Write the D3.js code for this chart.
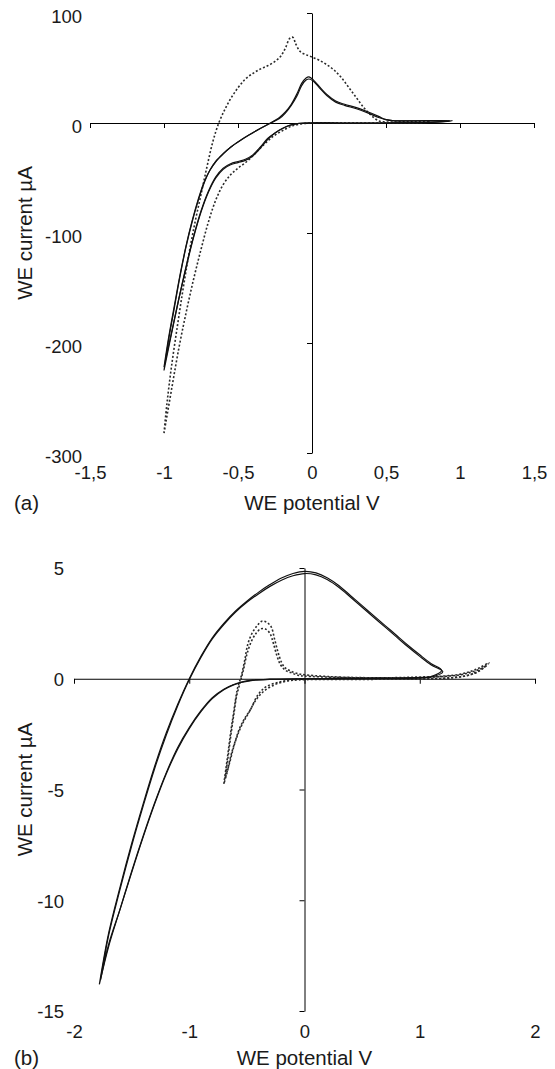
<!DOCTYPE html>
<html>
<head>
<meta charset="utf-8">
<script src="https://cdn.jsdelivr.net/npm/d3@7"></script>
<style>
body{margin:0;background:#fff;}
text{font-family:"Liberation Sans",Arial,sans-serif;fill:#1a1a1a;}
</style>
</head>
<body>
<script>
// values: [WE potential V, WE current uA]

// (a) solid, two cycles
const aSolid1 = [[-1.0,-225],[-0.97,-198],[-0.93,-168],[-0.89,-138],[-0.85,-112],[-0.81,-90],[-0.77,-71],[-0.73,-55],[-0.69,-43],[-0.65,-35],[-0.6,-28],[-0.55,-22],[-0.48,-15.5],[-0.42,-10.5],[-0.35,-5],[-0.28,0],[-0.22,5],[-0.18,10],[-0.14,17],[-0.1,27],[-0.07,36],[-0.04,41],[-0.02,42],[0.01,39],[0.05,33],[0.1,26],[0.16,20],[0.22,17],[0.3,14],[0.38,10],[0.45,6],[0.5,3],[0.56,2],[0.7,2],[0.95,2],
  [0.8,0.5],[0.5,0],[0.2,0],[-0.05,0],[-0.1,-0.5],[-0.15,-2],[-0.2,-5],[-0.25,-9],[-0.3,-14],[-0.35,-22],[-0.4,-29],[-0.45,-33],[-0.5,-35],[-0.55,-37],[-0.6,-41],[-0.65,-49],[-0.7,-62],[-0.75,-80],[-0.8,-103],[-0.85,-130],[-0.9,-160],[-0.95,-192],[-1.0,-225]];
const aSolid2 = [[-1.0,-222],[-0.97,-196],[-0.93,-166],[-0.89,-137],[-0.85,-111],[-0.81,-89],[-0.77,-70],[-0.73,-54],[-0.69,-43],[-0.65,-35],[-0.6,-28],[-0.55,-22],[-0.48,-15.5],[-0.42,-10.5],[-0.35,-5],[-0.28,0],[-0.22,4],[-0.18,9],[-0.14,16],[-0.1,25],[-0.07,34],[-0.04,39],[-0.02,40],[0.01,38],[0.05,32],[0.1,25],[0.16,19],[0.22,16],[0.3,13],[0.38,9],[0.45,5],[0.5,3],[0.56,2],[0.7,2],[0.93,2],
  [0.8,0.5],[0.5,0],[0.2,0],[-0.05,0],[-0.1,-0.5],[-0.15,-2],[-0.2,-5],[-0.25,-9],[-0.3,-15],[-0.35,-23],[-0.4,-30],[-0.45,-34],[-0.5,-36],[-0.55,-38],[-0.6,-42],[-0.65,-50],[-0.7,-63],[-0.75,-81],[-0.8,-104],[-0.85,-131],[-0.9,-160],[-0.95,-191],[-1.0,-222]];
// (a) dotted
const aDotted = [[-1.0,-282],[-0.98,-255],[-0.95,-222],[-0.91,-185],[-0.87,-150],[-0.83,-118],[-0.79,-90],[-0.75,-65],[-0.71,-40],[-0.67,-17],[-0.63,0],[-0.59,12],[-0.55,22],[-0.5,32],[-0.45,40],[-0.4,45],[-0.35,49],[-0.3,52],[-0.25,56],[-0.21,61],[-0.18,68],[-0.15,77],[-0.13,78],[-0.11,72],[-0.08,65],[-0.04,62],[0,60],[0.05,57],[0.1,53],[0.15,48],[0.2,41],[0.25,32],[0.3,23],[0.35,14],[0.4,7],[0.45,2],[0.5,1],[0.6,1],[0.8,1],
  [0.7,0],[0.5,0],[0.2,0],[0,0],[-0.08,-1],[-0.14,-3],[-0.2,-7],[-0.26,-12],[-0.32,-19],[-0.38,-27],[-0.44,-35],[-0.5,-41],[-0.55,-47],[-0.6,-56],[-0.65,-70],[-0.7,-90],[-0.75,-115],[-0.8,-142],[-0.85,-172],[-0.9,-205],[-0.95,-243],[-1.0,-282]];

// (b) solid, two cycles
const bSolid1 = [[-1.78,-13.8],[-1.7,-11.5],[-1.6,-9.4],[-1.5,-7.45],[-1.4,-5.65],[-1.3,-3.95],[-1.2,-2.45],[-1.1,-1.15],[-1.0,0],[-0.9,1.0],[-0.8,1.85],[-0.7,2.5],[-0.6,3.05],[-0.5,3.5],[-0.4,3.9],[-0.3,4.25],[-0.2,4.55],[-0.1,4.75],[0,4.85],[0.1,4.78],[0.2,4.55],[0.3,4.2],[0.4,3.75],[0.5,3.3],[0.6,2.85],[0.7,2.4],[0.8,1.95],[0.9,1.5],[1.0,1.08],[1.1,0.68],[1.19,0.38],
  [1.1,0.1],[1.0,0.05],[0.5,0.02],[0,0],[-0.3,-0.02],[-0.45,-0.06],[-0.55,-0.15],[-0.62,-0.27],[-0.7,-0.47],[-0.8,-0.85],[-0.9,-1.45],[-1.0,-2.2],[-1.1,-3.1],[-1.2,-4.25],[-1.3,-5.6],[-1.4,-7.1],[-1.5,-8.7],[-1.6,-10.4],[-1.7,-12.1],[-1.78,-13.8]];
const bSolid2 = [[-1.77,-13.6],[-1.7,-11.6],[-1.6,-9.5],[-1.5,-7.55],[-1.4,-5.75],[-1.3,-4.05],[-1.2,-2.55],[-1.1,-1.22],[-1.0,-0.05],[-0.9,0.95],[-0.8,1.8],[-0.7,2.45],[-0.6,3.0],[-0.5,3.45],[-0.4,3.83],[-0.3,4.17],[-0.2,4.45],[-0.1,4.65],[0,4.75],[0.1,4.69],[0.2,4.47],[0.3,4.12],[0.4,3.68],[0.5,3.23],[0.6,2.78],[0.7,2.33],[0.8,1.88],[0.9,1.43],[1.0,1.01],[1.1,0.62],[1.2,0.32],
  [1.1,0.08],[1.0,0.04],[0.5,0.01],[0,0],[-0.3,-0.03],[-0.45,-0.07],[-0.55,-0.17],[-0.62,-0.29],[-0.7,-0.5],[-0.8,-0.9],[-0.9,-1.5],[-1.0,-2.25],[-1.1,-3.17],[-1.2,-4.3],[-1.3,-5.65],[-1.4,-7.15],[-1.5,-8.75],[-1.6,-10.4],[-1.7,-12.0],[-1.77,-13.6]];
// (b) dotted, two cycles
const bDotted1 = [[-0.7,-4.75],[-0.68,-4.0],[-0.66,-3.2],[-0.64,-2.4],[-0.62,-1.7],[-0.6,-1.0],[-0.58,-0.4],[-0.55,0.1],[-0.52,0.8],[-0.49,1.6],[-0.45,2.1],[-0.41,2.4],[-0.37,2.6],[-0.33,2.55],[-0.29,2.35],[-0.26,1.8],[-0.23,1.2],[-0.2,0.75],[-0.17,0.5],[-0.12,0.35],[-0.05,0.22],[0,0.18],[0.2,0.1],[0.5,0.05],[0.8,0.05],[1.0,0.08],[1.2,0.12],[1.35,0.2],[1.45,0.35],[1.52,0.5],[1.6,0.72],
  [1.5,0.3],[1.3,0.05],[1.0,0],[0.5,0],[0,-0.02],[-0.12,-0.05],[-0.22,-0.15],[-0.33,-0.35],[-0.4,-0.7],[-0.47,-1.4],[-0.52,-1.8],[-0.56,-2.2],[-0.6,-2.8],[-0.64,-3.5],[-0.67,-4.2],[-0.7,-4.75]];
const bDotted2 = [[-0.69,-4.5],[-0.67,-3.8],[-0.65,-3.0],[-0.63,-2.2],[-0.61,-1.5],[-0.59,-0.8],[-0.56,-0.2],[-0.53,0.4],[-0.5,1.1],[-0.46,1.7],[-0.42,2.05],[-0.38,2.25],[-0.34,2.25],[-0.3,2.05],[-0.27,1.6],[-0.24,1.05],[-0.21,0.65],[-0.17,0.4],[-0.12,0.28],[-0.05,0.15],[0,0.12],[0.3,0.06],[0.7,0.03],[1.0,0.05],[1.2,0.1],[1.35,0.18],[1.45,0.3],[1.53,0.45],[1.58,0.6],
  [1.45,0.2],[1.2,0.02],[0.8,-0.02],[0.3,-0.03],[-0.05,-0.05],[-0.15,-0.1],[-0.25,-0.25],[-0.35,-0.55],[-0.42,-0.95],[-0.48,-1.5],[-0.53,-1.95],[-0.57,-2.4],[-0.61,-3.0],[-0.65,-3.8],[-0.69,-4.5]];

const aXTicks = [-1.5,-1,-0.5,0,0.5,1,1.5];
const aYTicks = [100,0,-100,-200,-300];
const bXTicks = [-2,-1,0,1,2];
const bYTicks = [5,0,-5,-10,-15];

const xTitle = "WE potential V";
const yTitle = "WE current µA";

const svg = d3.select("body").append("svg")
  .attr("width", 555)
  .attr("height", 1069);

const fmt = d => String(d).replace(".", ",");

function panel(o){
  const x = d3.scaleLinear().domain(o.xDom).range(o.xRange);
  const y = d3.scaleLinear().domain(o.yDom).range(o.yRange);
  const g = svg.append("g");

  // axes crossing at (0,0)
  g.append("g").attr("transform", `translate(${x(0)},0)`)
    .call(d3.axisLeft(y).tickValues(o.yTicks).tickSize(5).tickSizeOuter(0).tickFormat(""));
  g.append("g").attr("transform", `translate(0,${y(0)})`)
    .call(d3.axisBottom(x).tickValues(o.xTicks).tickSize(5).tickSizeOuter(0).tickFormat(""));

  // tick labels sit at the left / bottom edge
  const yl = g.append("g").attr("transform", `translate(${o.yLabX},${o.yLabDy})`)
    .call(d3.axisLeft(y).tickValues(o.yTicks).tickSize(0).tickPadding(0).tickFormat(fmt));
  yl.select(".domain").remove();
  const xl = g.append("g").attr("transform", `translate(0,${o.xLabY})`)
    .call(d3.axisBottom(x).tickValues(o.xTicks).tickSize(0).tickPadding(0).tickFormat(fmt));
  xl.select(".domain").remove();
  g.selectAll(".tick text").attr("font-size", 18.5).attr("font-family", null).attr("fill", "#1a1a1a");

  const line = d3.line().x(d => x(d[0])).y(d => y(d[1])).curve(d3.curveCatmullRom.alpha(0.5));

  o.dotted.forEach(s => g.append("path").datum(s)
    .attr("d", line).attr("fill", "none").attr("stroke", "#2a2a2a")
    .attr("stroke-width", 1.6).attr("stroke-dasharray", "2,2"));
  o.solid.forEach(s => g.append("path").datum(s)
    .attr("d", line).attr("fill", "none").attr("stroke", "#111")
    .attr("stroke-width", 1.2));

  g.append("text").attr("x", x(0)).attr("y", o.titleY)
    .attr("text-anchor", "middle").attr("font-size", 20.5).text(xTitle);
  g.append("text").attr("transform", `translate(32,${(o.yRange[0]+o.yRange[1])/2}) rotate(-90)`)
    .attr("text-anchor", "middle").attr("font-size", 20.5).text(yTitle);
  g.append("text").attr("x", 14).attr("y", o.titleY)
    .attr("font-size", 20.5).text(o.tag);
}

panel({xDom:[-1.5,1.5], xRange:[90,534], yDom:[-300,100], yRange:[453,13],
  xTicks:aXTicks, yTicks:aYTicks, yLabX:82, yLabDy:4, xLabY:466, titleY:510,
  solid:[aSolid1,aSolid2], dotted:[aDotted], tag:"(a)"});
panel({xDom:[-2,2], xRange:[74,535], yDom:[-15,5], yRange:[1011,568],
  xTicks:bXTicks, yTicks:bYTicks, yLabX:64, yLabDy:1, xLabY:1025, titleY:1065,
  solid:[bSolid1,bSolid2], dotted:[bDotted1,bDotted2], tag:"(b)"});
</script>
</body>
</html>
